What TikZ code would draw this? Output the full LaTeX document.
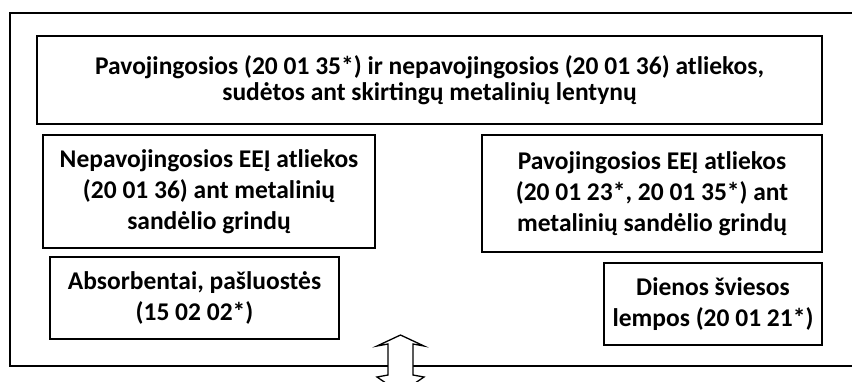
\documentclass[tikz,border=0pt]{standalone}
\usepackage{fontspec}
\setmainfont{Carlito}
\begin{document}
\begin{tikzpicture}[x=1pt,y=-1pt,
  box/.style={draw, line width=1.3pt, align=center, inner sep=0pt,
    font=\fontsize{25.5}{31}\selectfont\bfseries},
  frameline/.style={line width=1.3pt},
  hollowarrow/.style={line width=1.3pt, fill=white, line join=miter}]
\clip (0,0) rectangle (852,381);
\fill[white] (0,0) rectangle (852,381);
\draw[frameline] (853,13) -- (10,13) -- (10,366) -- (853,366);
\node[box, minimum width=785pt, minimum height=88pt,
  font=\fontsize{25.5}{25.5}\selectfont\bfseries] (top) at (429.5,80)
  {Pavojingosios (20 01 35*) ir nepavojingosios (20 01 36) atliekos,\\sudėtos ant skirtingų metalinių lentynų};
\node[box, minimum width=332pt, minimum height=113pt] (midleft) at (209,191.5)
  {Nepavojingosios EEĮ atliekos\\(20 01 36) ant metalinių\\sandėlio grindų};
\node[box, minimum width=340pt, minimum height=117pt] (midright) at (652,193.5)
  {Pavojingosios EEĮ atliekos\\(20 01 23*, 20 01 35*) ant\\metalinių sandėlio grindų};
\node[box, minimum width=289pt, minimum height=82pt] (botleft) at (194.5,298)
  {Absorbentai, pašluostės\\(15 02 02*)};
\node[box, minimum width=218pt, minimum height=82pt] (botright) at (713,304)
  {Dienos šviesos\\lempos (20 01 21*)};
\coordinate (tip) at (400.5,335);
\draw[hollowarrow] (tip) -- (424,346) -- (413,344) -- (413,375) -- (424,377)
  -- (400.5,393) -- (377,377) -- (388,375) -- (388,344) -- (377,346) -- cycle;
\end{tikzpicture}
\end{document}
